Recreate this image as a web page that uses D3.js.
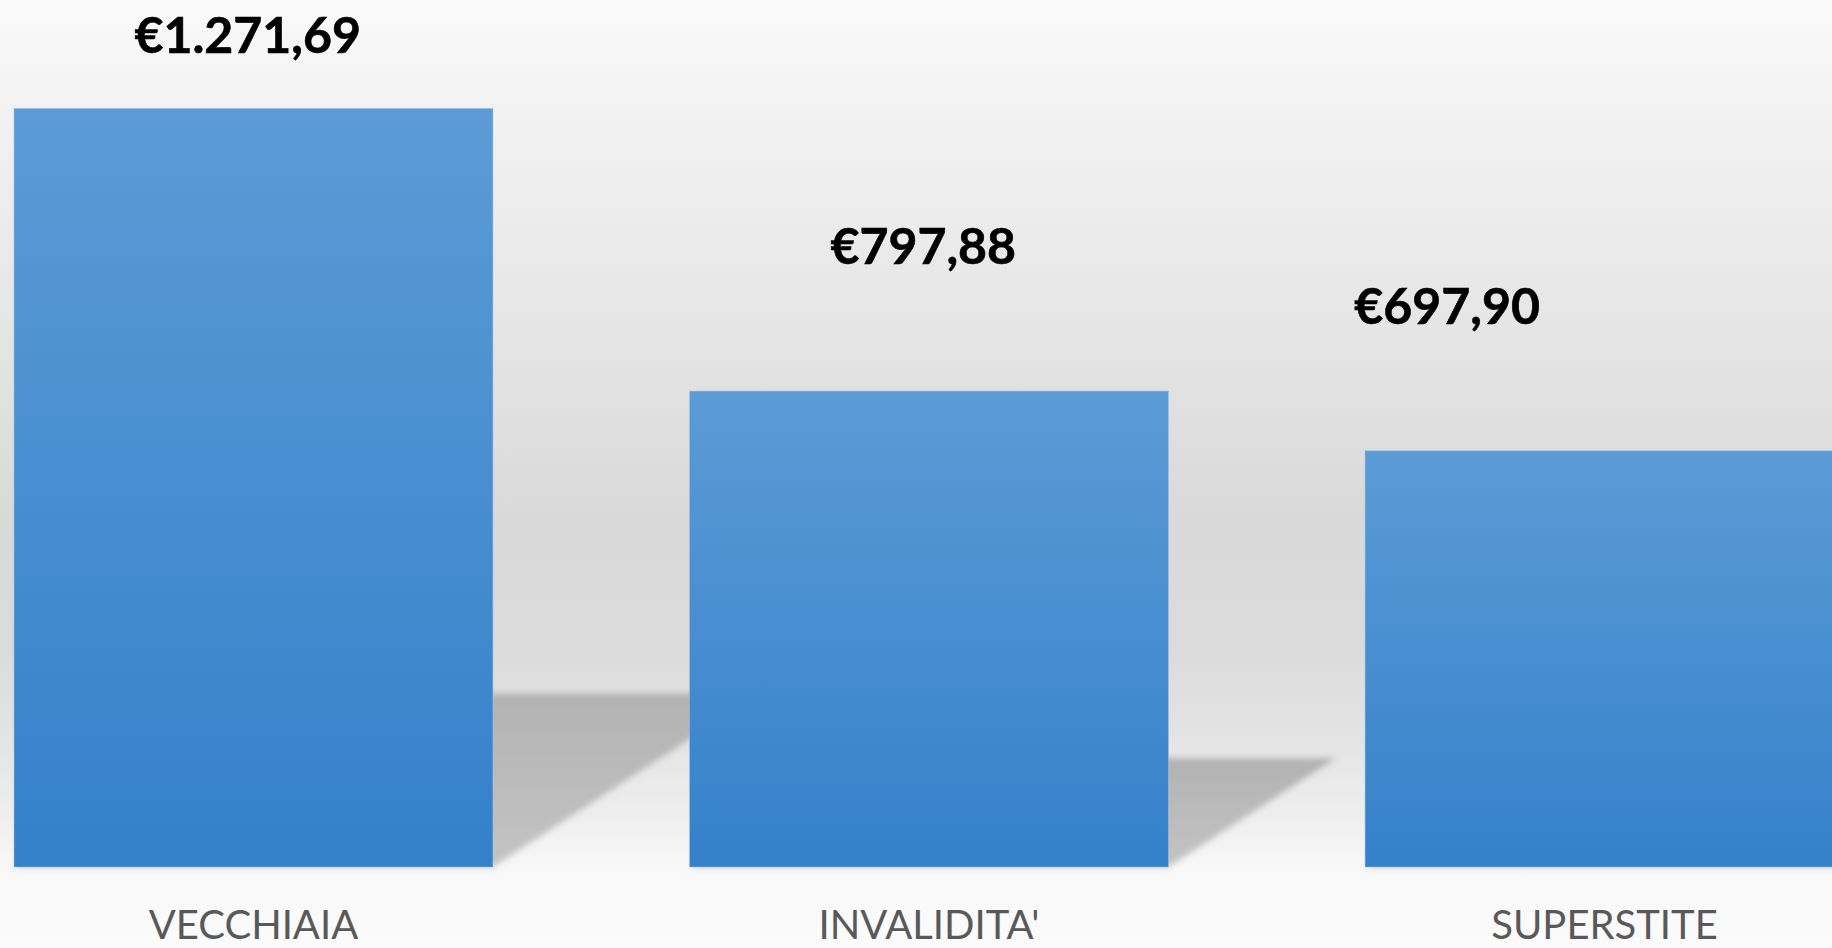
<!DOCTYPE html>
<html>
<head>
<meta charset="utf-8">
<script src="https://cdn.jsdelivr.net/npm/d3@7"></script>
<style>
  html, body { margin: 0; padding: 0; background: #fafafa; overflow: hidden; }
  svg { display: block; }
</style>
</head>
<body>
<svg id="chart" width="1832" height="948"></svg>
<script>
// ---- data ----
const categories = ["VECCHIAIA", "INVALIDITA'", "SUPERSTITE"];
const values = [1271.69, 797.88, 697.90];
const valueLabels = ["€1.271,69", "€797,88", "€697,90"];

// ---- layout ----
const W = 1832, H = 948;
const baseY = 867;
const svg = d3.select("#chart");

const x = d3.scaleBand()
  .domain(categories)
  .range([14, 1844])
  .paddingInner(0.291)
  .paddingOuter(0);

const y = d3.scaleLinear()
  .domain([0, 1300])
  .range([baseY, baseY - 1300 * 0.5965]);

const defs = svg.append("defs");

// background gradient
const bg = defs.append("linearGradient").attr("id", "bg")
  .attr("x1", 0).attr("y1", 0).attr("x2", 0).attr("y2", 1);
[[0, "#fafafa"], [0.1, "#f3f3f3"], [0.3, "#e8e8e8"], [0.55, "#d9d9d9"],
 [0.68, "#dbdbdb"], [0.78, "#e4e4e4"], [0.86, "#eeeeee"], [0.915, "#f8f8f8"], [1, "#fbfbfb"]]
  .forEach(([o, c]) => bg.append("stop").attr("offset", o).attr("stop-color", c));

// bar gradient
const bar = defs.append("linearGradient").attr("id", "barGrad")
  .attr("x1", 0).attr("y1", 0).attr("x2", 0).attr("y2", 1);
bar.append("stop").attr("offset", 0).attr("stop-color", "#5c9bd6");
bar.append("stop").attr("offset", 1).attr("stop-color", "#3481ca");

// shadow gradient
const sg = defs.append("linearGradient").attr("id", "shGrad")
  .attr("x1", 0).attr("y1", 0).attr("x2", 0).attr("y2", 1);
sg.append("stop").attr("offset", 0).attr("stop-color", "#b2b2b2");
sg.append("stop").attr("offset", 1).attr("stop-color", "#c4c4c4");

const blur = defs.append("filter").attr("id", "blur")
  .attr("x", "-20%").attr("y", "-20%").attr("width", "140%").attr("height", "140%");
blur.append("feGaussianBlur").attr("stdDeviation", 3);

svg.append("rect").attr("width", W).attr("height", H).attr("fill", "url(#bg)");

const data = categories.map((c, i) => ({ c, v: values[i], label: valueLabels[i] }));

// shadows (perspective floor shadows)
const shRatio = 0.229, shSlope = 0.65;
svg.append("g").attr("filter", "url(#blur)")
  .selectAll("path").data(data).join("path")
  .attr("fill", "url(#shGrad)")
  .attr("d", d => {
    const x0 = x(d.c), x1 = x(d.c) + x.bandwidth();
    const h = (baseY - y(d.v)) * shRatio;
    const s = h / shSlope;
    return `M${x0},${baseY} L${x1},${baseY} L${x1 + s},${baseY - h} L${x0 + s},${baseY - h} Z`;
  });

// bars
svg.append("g").selectAll("rect").data(data).join("rect")
  .attr("x", d => x(d.c))
  .attr("y", d => y(d.v))
  .attr("width", x.bandwidth())
  .attr("height", d => baseY - y(d.v))
  .attr("fill", "url(#barGrad)")
  .attr("stroke", "rgba(160,195,230,0.55)")
  .attr("stroke-width", 1);

// value labels
const labelGap = 127, labelTop = 52.5, labelMaxRight = 1540;
svg.append("g").selectAll("text").data(data).join("text")
  .attr("font-family", "Lato, 'Open Sans', sans-serif")
  .attr("font-weight", 700)
  .attr("font-size", 50)
  .attr("fill", "#000")
  .attr("stroke", "#000")
  .attr("stroke-width", 0.6)
  .attr("text-anchor", "middle")
  .attr("y", d => Math.max(y(d.v) - labelGap, labelTop))
  .text(d => d.label)
  .each(function (d) {
    const w = this.getComputedTextLength();
    const cx = x(d.c) + x.bandwidth() / 2 - 0.012 * x.bandwidth();
    d3.select(this).attr("x", Math.min(cx, labelMaxRight - w / 2));
  });

// category axis labels
svg.append("g").selectAll("text").data(data).join("text")
  .attr("font-family", "Lato, 'Open Sans', sans-serif")
  .attr("font-size", 40)
  .attr("fill", "#595959")
  .attr("text-anchor", "middle")
  .attr("x", d => x(d.c) + x.bandwidth() / 2)
  .attr("y", 939)
  .text(d => d.c);
</script>
</body>
</html>
